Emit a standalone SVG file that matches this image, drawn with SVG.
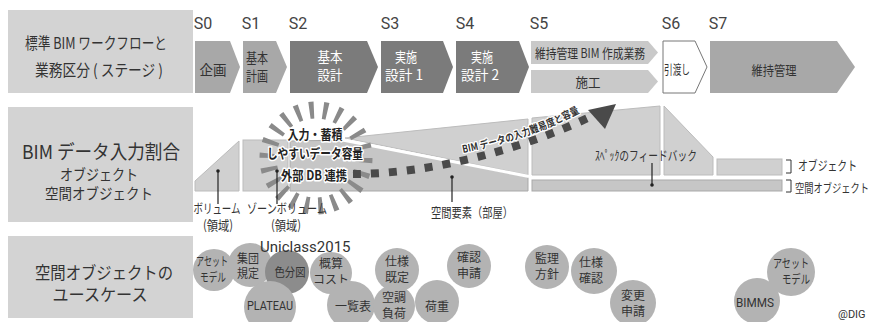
<svg xmlns="http://www.w3.org/2000/svg" width="876" height="322" viewBox="0 0 876 322">
<defs>
<style>
text{font-family:"Noto Sans CJK JP","Noto Sans",sans-serif;fill:#333;}
.lat{font-family:Roboto,"Liberation Sans",sans-serif;}
.box{fill:#d3d3d3;}
.stg{font-family:Roboto,"Liberation Sans",sans-serif;font-size:16px;fill:#444;text-anchor:middle;}
.mid{fill:#a8a8a8;}
.dark{fill:#7b7b7b;}
.lite{fill:#c9c9c9;}
.at{font-size:14px;text-anchor:middle;}
.wt{fill:#fff;}
.obj{fill:#d0d0d0;stroke:#bcbcbc;stroke-width:1;}
.spc{fill:#c6c6c6;stroke:#a9a9a9;stroke-width:1;}
.lbl{font-size:13px;text-anchor:middle;}
.bub{fill:#b3b3b3;}
.bt{font-size:12px;text-anchor:middle;fill:#333;}
.halo{font-weight:bold;font-size:13px;text-anchor:middle;fill:#222;stroke:#fff;stroke-width:3px;paint-order:stroke;stroke-linejoin:round;}
.lead{stroke:#222;stroke-width:1.2;fill:none;}
</style>
</defs>

<!-- Row labels -->
<g id="label-stage">
<rect class="box" x="8" y="10" width="185" height="83"/>
<text x="96" y="49" font-size="16" text-anchor="middle" textLength="142" lengthAdjust="spacingAndGlyphs">標準 BIM ワークフローと</text>
<text x="99" y="76" font-size="16" text-anchor="middle" textLength="128" lengthAdjust="spacingAndGlyphs">業務区分 ( ステージ )</text>
</g>
<g id="label-bim">
<rect class="box" x="8" y="107" width="185" height="115"/>
<text x="101" y="159" font-size="19" text-anchor="middle" textLength="158" lengthAdjust="spacingAndGlyphs">BIM データ入力割合</text>
<text x="99" y="180" font-size="15" text-anchor="middle" textLength="78" lengthAdjust="spacingAndGlyphs">オブジェクト</text>
<text x="99" y="199" font-size="15" text-anchor="middle" textLength="108" lengthAdjust="spacingAndGlyphs">空間オブジェクト</text>
</g>
<g id="label-usecase">
<rect class="box" x="8" y="236" width="185" height="82"/>
<text x="104" y="279" font-size="17" text-anchor="middle" textLength="138" lengthAdjust="spacingAndGlyphs">空間オブジェクトの</text>
<text x="100" y="301" font-size="17" text-anchor="middle" textLength="95" lengthAdjust="spacingAndGlyphs">ユースケース</text>
</g>

<!-- Stages -->
<g id="stage-labels">
<text class="stg" x="203" y="29">S0</text>
<text class="stg" x="251" y="29">S1</text>
<text class="stg" x="298" y="29">S2</text>
<text class="stg" x="390" y="29">S3</text>
<text class="stg" x="465" y="29">S4</text>
<text class="stg" x="539" y="29">S5</text>
<text class="stg" x="671" y="29">S6</text>
<text class="stg" x="718" y="29">S7</text>
</g>
<g id="s0">
<polygon class="mid" points="195,41 230,41 240,67 230,93 195,93"/>
<text class="at" x="213" y="75" textLength="27" lengthAdjust="spacingAndGlyphs">企画</text>
</g>
<g id="s1">
<polygon class="mid" points="243,41 276,41 287,67 276,93 243,93"/>
<text class="at" x="257" y="63" textLength="22" lengthAdjust="spacingAndGlyphs">基本</text>
<text class="at" x="257" y="81" textLength="22" lengthAdjust="spacingAndGlyphs">計画</text>
</g>
<g id="s2">
<polygon class="dark" points="290,41 367,41 378,67 367,93 290,93"/>
<text class="at wt" x="330" y="62" textLength="25" lengthAdjust="spacingAndGlyphs">基本</text>
<text class="at wt" x="330" y="80" textLength="25" lengthAdjust="spacingAndGlyphs">設計</text>
</g>
<g id="s3">
<polygon class="dark" points="381,41 443,41 453,67 443,93 381,93"/>
<text class="at wt" x="406" y="62" textLength="22" lengthAdjust="spacingAndGlyphs">実施</text>
<text class="at wt" x="404" y="80" textLength="38" lengthAdjust="spacingAndGlyphs">設計 1</text>
</g>
<g id="s4">
<polygon class="dark" points="456,41 519,41 529,67 519,93 456,93"/>
<text class="at wt" x="482" y="62" textLength="22" lengthAdjust="spacingAndGlyphs">実施</text>
<text class="at wt" x="480" y="80" textLength="38" lengthAdjust="spacingAndGlyphs">設計 2</text>
</g>
<g id="s5-bim">
<polygon class="lite" points="531,41 648,41 658,52.5 648,64 531,64"/>
<text x="590" y="58" font-size="13" text-anchor="middle" textLength="110" lengthAdjust="spacingAndGlyphs">維持管理 BIM 作成業務</text>
</g>
<g id="s5-const">
<polygon class="lite" points="531,70 648,70 658,81.5 648,93 531,93"/>
<text x="588" y="87" font-size="13" text-anchor="middle" textLength="25" lengthAdjust="spacingAndGlyphs">施工</text>
</g>
<g id="s6">
<polygon points="663,41 695,41 707,67 695,93 663,93" fill="#fff" stroke="#777" stroke-width="1"/>
<text x="677" y="74" font-size="13" text-anchor="middle" textLength="26" lengthAdjust="spacingAndGlyphs">引渡し</text>
</g>
<g id="s7">
<polygon class="mid" points="710,41 837,41 855,67 837,93 710,93"/>
<text x="774" y="75" font-size="13" text-anchor="middle" textLength="45" lengthAdjust="spacingAndGlyphs">維持管理</text>
</g>

<!-- BIM data ratio chart -->
<g id="volume">
<polygon class="obj" points="195,191 195,181 239,141 239,191"/>
</g>
<g id="zone-volume">
<rect class="obj" x="243" y="140" width="45" height="51"/>
</g>
<g id="space-s2s4">
<polygon class="spc" points="290,141 345,140 528,177 528,191 290,191"/>
</g>
<g id="object-s2s4">
<polygon class="obj" points="345,138 528,119 528,175"/>
<line x1="340" y1="139.5" x2="529" y2="176.5" stroke="#fff" stroke-width="3"/>
</g>
<g id="object-s5">
<polygon class="obj" points="532,118 660,106 660,175 532,175"/>
</g>
<g id="object-s6">
<polygon class="obj" points="664,106 713,157 713,175 664,175"/>
</g>
<g id="object-s7">
<rect class="obj" x="717" y="159" width="65" height="16"/>
</g>
<g id="space-s5s7">
<rect class="spc" x="532" y="180" width="250" height="11"/>
</g>

<!-- burst -->
<g id="burst">
<circle cx="316" cy="158" r="48" fill="none" stroke="#8a8a8a" stroke-width="17" stroke-dasharray="4.5 9.2"/>
<text class="halo" x="315" y="139" textLength="55" lengthAdjust="spacingAndGlyphs">入力・蓄積</text>
<text class="halo" x="315" y="158" textLength="96" lengthAdjust="spacingAndGlyphs">しやすいデータ容量</text>
<text class="halo" x="314" y="180" textLength="66" lengthAdjust="spacingAndGlyphs">外部 DB 連携</text>
</g>

<!-- connectors -->
<g id="connectors">
<path d="M353,174 C 430,174 520,150 590,117" fill="none" stroke="#4a4a4a" stroke-width="8" stroke-dasharray="8 10"/>
<polygon points="616,104 588,110 605,129" fill="#4a4a4a"/>
<path id="tp" d="M463,153 C 505,145 550,130 592,106" fill="none"/>
<text font-size="10.5" font-weight="bold" fill="#222" stroke="#fff" stroke-width="2.5" paint-order="stroke" stroke-linejoin="round"><textPath href="#tp" textLength="124" lengthAdjust="spacingAndGlyphs">BIM データの入力難易度と容量</textPath></text>
<line class="lead" x1="218" y1="171" x2="218" y2="204"/>
<circle cx="218" cy="171" r="1.8" fill="#222"/>
<line class="lead" x1="277" y1="171" x2="277" y2="204"/>
<circle cx="277" cy="171" r="1.8" fill="#222"/>
<line class="lead" x1="452" y1="177" x2="452" y2="202"/>
<circle cx="452" cy="177" r="1.8" fill="#222"/>
<line class="lead" x1="652" y1="163" x2="652" y2="185"/>
<circle cx="652" cy="185" r="1.8" fill="#222"/>
<path d="M786,160 H791 V173 H786 M786,180 H791 V192 H786" fill="none" stroke="#333" stroke-width="1"/>
</g>

<g id="chart-labels">
<text class="lbl" x="217" y="213" textLength="47" lengthAdjust="spacingAndGlyphs">ボリューム</text>
<text class="lbl" x="218" y="230" textLength="30" lengthAdjust="spacingAndGlyphs">(領域)</text>
<text class="lbl" x="287" y="213" textLength="80" lengthAdjust="spacingAndGlyphs">ゾーンボリューム</text>
<text class="lbl" x="286" y="230" textLength="30" lengthAdjust="spacingAndGlyphs">(領域)</text>
<text class="lbl" x="472" y="217" font-size="14" textLength="82" lengthAdjust="spacingAndGlyphs">空間要素（部屋）</text>
<text class="lbl" x="646" y="160" textLength="102" lengthAdjust="spacingAndGlyphs">ｽﾍﾟｯｸのフィードバック</text>
<text x="798" y="170" font-size="13" textLength="59" lengthAdjust="spacingAndGlyphs">オブジェクト</text>
<text x="795" y="193" font-size="12" textLength="74" lengthAdjust="spacingAndGlyphs">空間オブジェクト</text>
</g>

<!-- Use cases -->
<g id="uc-asset1"><circle class="bub" cx="214" cy="270" r="21"/>
<text class="bt" x="212" y="266" textLength="32" lengthAdjust="spacingAndGlyphs">アセット</text><text class="bt" x="213" y="282" textLength="26" lengthAdjust="spacingAndGlyphs">モデル</text></g>
<g id="uc-shudan"><circle class="bub" cx="250" cy="265" r="22"/>
<text class="bt" x="248" y="263" textLength="22" lengthAdjust="spacingAndGlyphs">集団</text><text class="bt" x="248" y="278" textLength="22" lengthAdjust="spacingAndGlyphs">規定</text></g>
<g id="uc-iro"><circle cx="287" cy="272" r="22" fill="#8c8c8c"/>
<text class="bt" x="290" y="277" textLength="31" lengthAdjust="spacingAndGlyphs">色分図</text></g>
<g id="uc-plateau"><circle class="bub" cx="270" cy="307" r="26"/>
<text class="bt lat" x="270" y="310" textLength="46" lengthAdjust="spacingAndGlyphs">PLATEAU</text></g>
<g id="uc-uniclass"><text class="lat" x="260" y="252" font-size="15">Uniclass2015</text></g>
<g id="uc-gaisan"><circle class="bub" cx="331" cy="273" r="21"/>
<text class="bt" x="331" y="268">概算</text><text class="bt" x="331" y="284">コスト</text></g>
<g id="uc-ichiran"><circle class="bub" cx="351" cy="305" r="24"/>
<text class="bt" x="353" y="311">一覧表</text></g>
<g id="uc-shiyo"><circle class="bub" cx="397" cy="270" r="22"/>
<text class="bt" x="397" y="266">仕様</text><text class="bt" x="397" y="282">既定</text></g>
<g id="uc-kucho"><circle class="bub" cx="394" cy="306" r="21"/>
<text class="bt" x="394" y="302">空調</text><text class="bt" x="394" y="318">負荷</text></g>
<g id="uc-kaju"><circle class="bub" cx="437" cy="302" r="22"/>
<text class="bt" x="437" y="311">荷重</text></g>
<g id="uc-kakunin"><circle class="bub" cx="469" cy="266" r="22"/>
<text class="bt" x="469" y="262">確認</text><text class="bt" x="469" y="278">申請</text></g>
<g id="uc-kanri"><circle class="bub" cx="547" cy="267" r="22"/>
<text class="bt" x="547" y="263">監理</text><text class="bt" x="547" y="279">方針</text></g>
<g id="uc-shiyokakunin"><circle class="bub" cx="594" cy="271" r="23"/>
<text class="bt" x="591" y="267">仕様</text><text class="bt" x="591" y="283">確認</text></g>
<g id="uc-henko"><circle class="bub" cx="633" cy="303" r="23"/>
<text class="bt" x="633" y="300">変更</text><text class="bt" x="633" y="316">申請</text></g>
<g id="uc-bimms"><circle class="bub" cx="757" cy="301" r="23"/>
<text class="bt lat" x="755" y="307" font-size="14" textLength="38" lengthAdjust="spacingAndGlyphs">BIMMS</text></g>
<g id="uc-asset2"><circle class="bub" cx="791" cy="272" r="24"/>
<text class="bt" x="791" y="268" textLength="36" lengthAdjust="spacingAndGlyphs">アセット</text><text class="bt" x="796" y="284" textLength="28" lengthAdjust="spacingAndGlyphs">モデル</text></g>
<text class="lat" x="838" y="318" font-size="11">@DIG</text>
</svg>
